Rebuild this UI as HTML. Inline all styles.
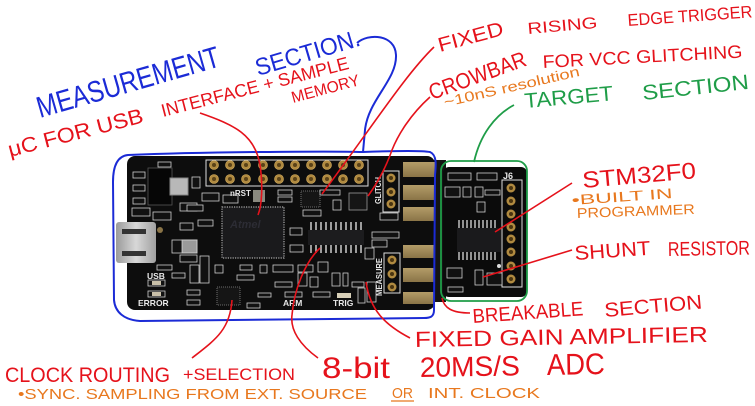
<!DOCTYPE html>
<html><head><meta charset="utf-8"><style>
html,body{margin:0;padding:0;background:#fff;width:755px;height:406px;overflow:hidden}
svg{display:block}
text{font-family:"Liberation Sans","DejaVu Sans",sans-serif}
.r{fill:#e5121b}.b{fill:#1b2bd6}.o{fill:#e8781e}.g{fill:#1f9d48}
.c{fill:#111;stroke:#cfcfcf;stroke-width:0.8}
.w{fill:#e8e8e8;font-weight:bold}
</style></head><body>
<svg width="755" height="406" viewBox="0 0 755 406" xmlns="http://www.w3.org/2000/svg">
<defs>
<linearGradient id="gold" x1="0" y1="0" x2="0" y2="1"><stop offset="0" stop-color="#b39c68"/><stop offset="1" stop-color="#8a7447"/></linearGradient>
<linearGradient id="usb" x1="0" y1="0" x2="1" y2="0"><stop offset="0" stop-color="#9a9a9a"/><stop offset="0.5" stop-color="#d8d8d8"/><stop offset="1" stop-color="#a0a0a0"/></linearGradient>
</defs>

<!-- tab between boards -->
<rect x="430" y="160" width="16" height="142" fill="#141414"/>
<!-- main board -->
<rect x="127" y="156" width="308" height="154" rx="8" fill="#0d0d0d"/>
<!-- target board -->
<rect x="443" y="167" width="84" height="130" rx="6" fill="#0b0b0b"/>

<!-- gold fingers -->
<g fill="url(#gold)">
<rect x="403" y="162" width="32" height="15"/>
<rect x="403" y="185" width="32" height="15"/>
<rect x="403" y="207" width="32" height="14"/>
<rect x="403" y="245" width="32" height="13"/>
<rect x="403" y="268" width="32" height="14"/>
<rect x="403" y="292" width="32" height="12"/>
</g>

<!-- top 2x10 header -->
<rect x="206" y="160" width="162" height="26" fill="none" stroke="#ddd" stroke-width="1"/>
<g fill="#b08a40" stroke="#d8b060" stroke-width="0.6">
<circle cx="214" cy="165" r="4.5"/><circle cx="230" cy="165" r="4.5"/><circle cx="246" cy="165" r="4.5"/><circle cx="263" cy="165" r="4.5"/><circle cx="279" cy="165" r="4.5"/><circle cx="295" cy="165" r="4.5"/><circle cx="311" cy="165" r="4.5"/><circle cx="327" cy="165" r="4.5"/><circle cx="343" cy="165" r="4.5"/><circle cx="359" cy="165" r="4.5"/>
<circle cx="214" cy="179" r="4.5"/><circle cx="230" cy="179" r="4.5"/><circle cx="246" cy="179" r="4.5"/><circle cx="263" cy="179" r="4.5"/><circle cx="279" cy="179" r="4.5"/><circle cx="295" cy="179" r="4.5"/><circle cx="311" cy="179" r="4.5"/><circle cx="327" cy="179" r="4.5"/><circle cx="343" cy="179" r="4.5"/><circle cx="359" cy="179" r="4.5"/>
</g>
<g fill="#5a4218">
<circle cx="214" cy="165" r="2"/><circle cx="230" cy="165" r="2"/><circle cx="246" cy="165" r="2"/><circle cx="263" cy="165" r="2"/><circle cx="279" cy="165" r="2"/><circle cx="295" cy="165" r="2"/><circle cx="311" cy="165" r="2"/><circle cx="327" cy="165" r="2"/><circle cx="343" cy="165" r="2"/><circle cx="359" cy="165" r="2"/>
<circle cx="214" cy="179" r="2"/><circle cx="230" cy="179" r="2"/><circle cx="246" cy="179" r="2"/><circle cx="263" cy="179" r="2"/><circle cx="279" cy="179" r="2"/><circle cx="295" cy="179" r="2"/><circle cx="311" cy="179" r="2"/><circle cx="327" cy="179" r="2"/><circle cx="343" cy="179" r="2"/><circle cx="359" cy="179" r="2"/>
</g>

<!-- GLITCH & MEASURE headers -->
<rect x="383" y="171" width="16" height="41" fill="none" stroke="#ddd" stroke-width="1"/>
<rect x="384" y="253" width="16" height="40" fill="none" stroke="#ddd" stroke-width="1"/>
<g fill="#b08a40"><circle cx="391" cy="178" r="4.5"/><circle cx="391" cy="192" r="4.5"/><circle cx="391" cy="204" r="4.5"/><circle cx="392" cy="260" r="4.5"/><circle cx="392" cy="274" r="4.5"/><circle cx="392" cy="287" r="4.5"/></g>
<g fill="#4a3510"><circle cx="391" cy="178" r="2"/><circle cx="391" cy="192" r="2"/><circle cx="391" cy="204" r="2"/><circle cx="392" cy="260" r="2"/><circle cx="392" cy="274" r="2"/><circle cx="392" cy="287" r="2"/></g>
<text class="w" font-size="8" transform="translate(381,204) rotate(-90)" textLength="27" lengthAdjust="spacingAndGlyphs">GLITCH</text>
<text class="w" font-size="8" transform="translate(382,296) rotate(-90)" textLength="38" lengthAdjust="spacingAndGlyphs">MEASURE</text>

<!-- Atmel MCU -->
<rect x="222" y="207" width="62" height="51" fill="#1a1a1c" stroke="#aaa" stroke-width="1.2" stroke-dasharray="1.2 1.2"/>
<text x="230" y="228" font-size="11" fill="#2c2c34" font-style="italic" font-weight="bold">Atmel</text>
<!-- ADC -->
<rect x="308" y="230" width="56" height="15" fill="#1c1c1e"/>
<g stroke="#ccc" stroke-width="1.5">
<path d="M311,222v8M316,222v8M321,222v8M326,222v8M331,222v8M336,222v8M341,222v8M346,222v8M351,222v8M356,222v8M361,222v8"/>
<path d="M311,245v8M316,245v8M321,245v8M326,245v8M331,245v8M336,245v8M341,245v8M346,245v8M351,245v8M356,245v8M361,245v8"/>
</g>
<!-- small chips -->
<rect x="301" y="191" width="19" height="16" fill="#151515" stroke="#888" stroke-width="0.8" stroke-dasharray="1 1"/>
<rect x="349" y="193" width="18" height="17" fill="#151515" stroke="#999" stroke-width="0.8"/>
<rect x="217" y="287" width="23" height="18" fill="#151515" stroke="#888" stroke-width="0.8" stroke-dasharray="1 1"/>
<rect x="148" y="168" width="24" height="37" fill="#060606" stroke="#555" stroke-width="0.8"/>
<rect x="170" y="178" width="18" height="17" fill="#b8b8b8" stroke="#888"/>
<rect x="182" y="240" width="15" height="13" fill="#9a9a9a" stroke="#ccc"/>
<rect x="253" y="190" width="12" height="12" fill="#8a8a80"/>
<!-- USB connector -->
<rect x="116" y="222" width="40" height="41" rx="3" fill="url(#usb)"/>
<rect x="122" y="229" width="24" height="5" fill="#333"/>
<rect x="122" y="251" width="24" height="5" fill="#333"/>
<circle cx="160" cy="230" r="3" fill="#8a7447"/>

<!-- misc passives main -->
<g class="c">
<rect x="158" y="162" width="13" height="5"/><rect x="133" y="172" width="12" height="6"/><rect x="133" y="185" width="12" height="6"/><rect x="133" y="198" width="12" height="6"/>
<rect x="192" y="177" width="8" height="11"/><rect x="132" y="208" width="18" height="8"/><rect x="153" y="212" width="18" height="8"/>
<rect x="180" y="203" width="17" height="8"/><rect x="187" y="205" width="16" height="6"/><rect x="202" y="193" width="17" height="8"/><rect x="223" y="195" width="15" height="8"/>
<rect x="198" y="220" width="15" height="6"/><rect x="278" y="190" width="14" height="5"/><rect x="278" y="197" width="14" height="5"/>
<rect x="320" y="190" width="20" height="5"/><rect x="303" y="210" width="18" height="6"/><rect x="333" y="200" width="8" height="10"/>
<rect x="380" y="213" width="18" height="7"/><rect x="290" y="228" width="12" height="7"/><rect x="290" y="245" width="13" height="7"/>
<rect x="372" y="232" width="27" height="6"/><rect x="372" y="240" width="15" height="7"/><rect x="365" y="248" width="9" height="11"/>
<rect x="180" y="223" width="13" height="7"/><rect x="172" y="240" width="10" height="13"/><rect x="180" y="255" width="17" height="7"/>
<rect x="200" y="256" width="9" height="27"/><rect x="190" y="265" width="9" height="18"/><rect x="157" y="265" width="15" height="5"/>
<rect x="172" y="273" width="13" height="5"/><rect x="215" y="265" width="8" height="8"/><rect x="240" y="265" width="12" height="5"/>
<rect x="237" y="275" width="17" height="5"/><rect x="260" y="265" width="7" height="8"/><rect x="273" y="265" width="20" height="7"/>
<rect x="298" y="265" width="15" height="7"/><rect x="275" y="282" width="17" height="5"/><rect x="187" y="290" width="13" height="5"/>
<rect x="187" y="300" width="13" height="5"/><rect x="247" y="303" width="13" height="5"/><rect x="258" y="293" width="13" height="4"/>
<rect x="313" y="292" width="17" height="5"/><rect x="298" y="273" width="9" height="13"/><rect x="310" y="277" width="8" height="10"/>
<rect x="318" y="262" width="10" height="10"/><rect x="332" y="273" width="8" height="13"/><rect x="343" y="273" width="5" height="13"/>
<rect x="358" y="288" width="7" height="15"/><rect x="352" y="282" width="12" height="5"/><rect x="367" y="282" width="9" height="20"/>
<rect x="148" y="280" width="17" height="6"/><rect x="148" y="291" width="17" height="6"/><rect x="285" y="292" width="17" height="5"/>
</g>
<rect x="337" y="293" width="14" height="5" fill="#d8d0b8"/>
<rect x="152" y="281" width="9" height="4" fill="#c8bfa8"/><rect x="152" y="292" width="9" height="4" fill="#c8bfa8"/>

<text class="w" x="230" y="196" font-size="8">nRST</text>
<text class="w" x="147" y="279" font-size="8.5">USB</text>
<text class="w" x="138" y="306" font-size="8.5">ERROR</text>
<text class="w" x="283" y="306" font-size="8.5">ARM</text>
<text class="w" x="333" y="306" font-size="8.5">TRIG</text>

<!-- target board details -->
<text class="w" x="503" y="179" font-size="9" font-weight="normal">J6</text>
<rect x="502" y="180" width="20" height="107" fill="none" stroke="#ddd" stroke-width="1"/>
<g fill="#b08a40"><circle cx="511" cy="188" r="4.5"/><circle cx="511" cy="201" r="4.5"/><circle cx="511" cy="214" r="4.5"/><circle cx="511" cy="227" r="4.5"/><circle cx="511" cy="239" r="4.5"/><circle cx="511" cy="252" r="4.5"/><circle cx="511" cy="266" r="4.5"/><circle cx="511" cy="279" r="4.5"/></g>
<g fill="#4a3510"><circle cx="511" cy="188" r="2"/><circle cx="511" cy="201" r="2"/><circle cx="511" cy="214" r="2"/><circle cx="511" cy="227" r="2"/><circle cx="511" cy="239" r="2"/><circle cx="511" cy="252" r="2"/><circle cx="511" cy="266" r="2"/><circle cx="511" cy="279" r="2"/></g>
<rect x="457" y="228" width="44" height="24" fill="#1a1a1c"/>
<g stroke="#ccc" stroke-width="1.4">
<path d="M459,220v8M463,220v8M467,220v8M471,220v8M475,220v8M479,220v8M483,220v8M487,220v8M491,220v8M495,220v8"/>
<path d="M459,252v8M463,252v8M467,252v8M471,252v8M475,252v8M479,252v8M483,252v8M487,252v8M491,252v8M495,252v8"/>
</g>
<g class="c">
<rect x="448" y="173" width="23" height="7"/><rect x="477" y="173" width="20" height="7"/><rect x="445" y="187" width="15" height="10"/>
<rect x="463" y="187" width="8" height="10"/><rect x="475" y="187" width="8" height="10"/><rect x="485" y="190" width="15" height="5"/>
<rect x="477" y="202" width="8" height="10"/><rect x="447" y="268" width="15" height="10"/><rect x="475" y="270" width="8" height="15"/>
<rect x="487" y="273" width="15" height="12"/><rect x="448" y="287" width="15" height="5"/>
</g>
<circle cx="499" cy="266" r="2" fill="#ddd"/>

<!-- outlines -->
<path d="M128,155 C200,152 330,151 363,152 C390,151 420,150 430,152 C437,155 436,165 435,175 L434,310 C434,317 430,318 424,318 L140,321 C124,320 115,312 114,300 L113,182 C113,165 118,156 128,155 Z" fill="none" stroke="#1b2bd6" stroke-width="2"/>
<path d="M357,43 C368,33 395,34 396,55 C397,80 368,100 365,130 L363,152" fill="none" stroke="#1b2bd6" stroke-width="2"/>
<rect x="441" y="161" width="86" height="140" rx="10" fill="none" stroke="#1f9d48" stroke-width="1.8"/>
<path d="M514,105 C495,115 480,135 474,162" fill="none" stroke="#1f9d48" stroke-width="1.8"/>

<!-- red leader lines -->
<g fill="none" stroke="#e5121b" stroke-width="1.6">
<path d="M200,113 C235,125 255,135 260,165 C263,185 262,205 258,215"/>
<path d="M434,47 C405,75 370,130 322,194"/>
<path d="M430,97 C410,115 398,135 392,150 C385,170 376,185 368,196"/>
<path d="M572,183 L495,232"/>
<path d="M572,250 L483,277"/>
<path d="M442,298 C444,308 452,313 470,313"/>
<path d="M410,338 C385,325 370,310 366,282"/>
<path d="M318,358 C300,345 290,330 292,315 C294,290 305,262 320,248"/>
<path d="M192,358 C215,340 230,330 232,300"/>
</g>

<!-- labels -->
<text class="b" font-size="30" transform="translate(40,118) rotate(-16)" textLength="189" lengthAdjust="spacingAndGlyphs">MEASUREMENT</text>
<text class="b" font-size="24" transform="translate(258,76) rotate(-16.5)" textLength="108" lengthAdjust="spacingAndGlyphs">SECTION.</text>
<text class="r" font-size="21" transform="translate(10,157) rotate(-14.5)" textLength="139" lengthAdjust="spacingAndGlyphs">μC FOR USB</text>
<text class="r" font-size="18" transform="translate(163,117) rotate(-14.5)" textLength="193" lengthAdjust="spacingAndGlyphs">INTERFACE + SAMPLE</text>
<text class="r" font-size="16" transform="translate(293,103) rotate(-15)" textLength="70" lengthAdjust="spacingAndGlyphs">MEMORY</text>

<text class="r" font-size="20" transform="translate(440,52) rotate(-15)" textLength="67" lengthAdjust="spacingAndGlyphs">FIXED</text>
<text class="r" font-size="16" transform="translate(528,34) rotate(-5)" textLength="70" lengthAdjust="spacingAndGlyphs">RISING</text>
<text class="r" font-size="17" transform="translate(628,26) rotate(-4)" textLength="125" lengthAdjust="spacingAndGlyphs">EDGE TRIGGER</text>
<text class="r" font-size="22" transform="translate(432,100) rotate(-20)" textLength="102" lengthAdjust="spacingAndGlyphs">CROWBAR</text>
<text class="r" font-size="18" transform="translate(543,68) rotate(-3)" textLength="200" lengthAdjust="spacingAndGlyphs">FOR VCC GLITCHING</text>
<text class="o" font-size="14" transform="translate(445,107) rotate(-13)" textLength="139" lengthAdjust="spacingAndGlyphs">~10nS resolution</text>
<text class="g" font-size="21" transform="translate(525,108) rotate(-5)" textLength="89" lengthAdjust="spacingAndGlyphs">TARGET</text>
<text class="g" font-size="21" transform="translate(643,100) rotate(-6)" textLength="107" lengthAdjust="spacingAndGlyphs">SECTION</text>

<text class="r" font-size="23" transform="translate(583,188) rotate(-5)" textLength="114" lengthAdjust="spacingAndGlyphs">STM32F0</text>
<text class="o" font-size="14" transform="translate(572,205) rotate(-4)" textLength="101" lengthAdjust="spacingAndGlyphs">•BUILT IN</text>
<text class="o" font-size="14" transform="translate(577,218) rotate(-2)" textLength="118" lengthAdjust="spacingAndGlyphs">PROGRAMMER</text>
<text class="r" font-size="20" transform="translate(575,260) rotate(-4)" textLength="76" lengthAdjust="spacingAndGlyphs">SHUNT</text>
<text class="r" font-size="20" transform="translate(668,256) rotate(-1)" textLength="82" lengthAdjust="spacingAndGlyphs">RESISTOR</text>
<text class="r" font-size="20" transform="translate(473,323) rotate(-4)" textLength="111" lengthAdjust="spacingAndGlyphs">BREAKABLE</text>
<text class="r" font-size="20" transform="translate(605,317) rotate(-5)" textLength="98" lengthAdjust="spacingAndGlyphs">SECTION</text>
<text class="r" font-size="22" transform="translate(415,347) rotate(-1)" textLength="293" lengthAdjust="spacingAndGlyphs">FIXED GAIN AMPLIFIER</text>

<text class="r" font-size="21" transform="translate(5,382)" textLength="165" lengthAdjust="spacingAndGlyphs">CLOCK ROUTING</text>
<text class="r" font-size="17" transform="translate(183,380)" textLength="112" lengthAdjust="spacingAndGlyphs">+SELECTION</text>
<text class="r" font-size="30" transform="translate(322,378)" textLength="68" lengthAdjust="spacingAndGlyphs">8-bit</text>
<text class="r" font-size="28" transform="translate(420,377) rotate(-1)" textLength="100" lengthAdjust="spacingAndGlyphs">20MS/S</text>
<text class="r" font-size="30" transform="translate(547,375) rotate(-1)" textLength="58" lengthAdjust="spacingAndGlyphs">ADC</text>
<text class="o" font-size="15" transform="translate(18,399)" textLength="349" lengthAdjust="spacingAndGlyphs">•SYNC. SAMPLING FROM EXT. SOURCE</text>
<text class="o" font-size="15" transform="translate(392,398)" textLength="21" lengthAdjust="spacingAndGlyphs">OR</text>
<path d="M391,401 L414,401" stroke="#e8781e" stroke-width="1.3"/>
<text class="o" font-size="15" transform="translate(428,398)" textLength="112" lengthAdjust="spacingAndGlyphs">INT. CLOCK</text>
</svg>
</body></html>
